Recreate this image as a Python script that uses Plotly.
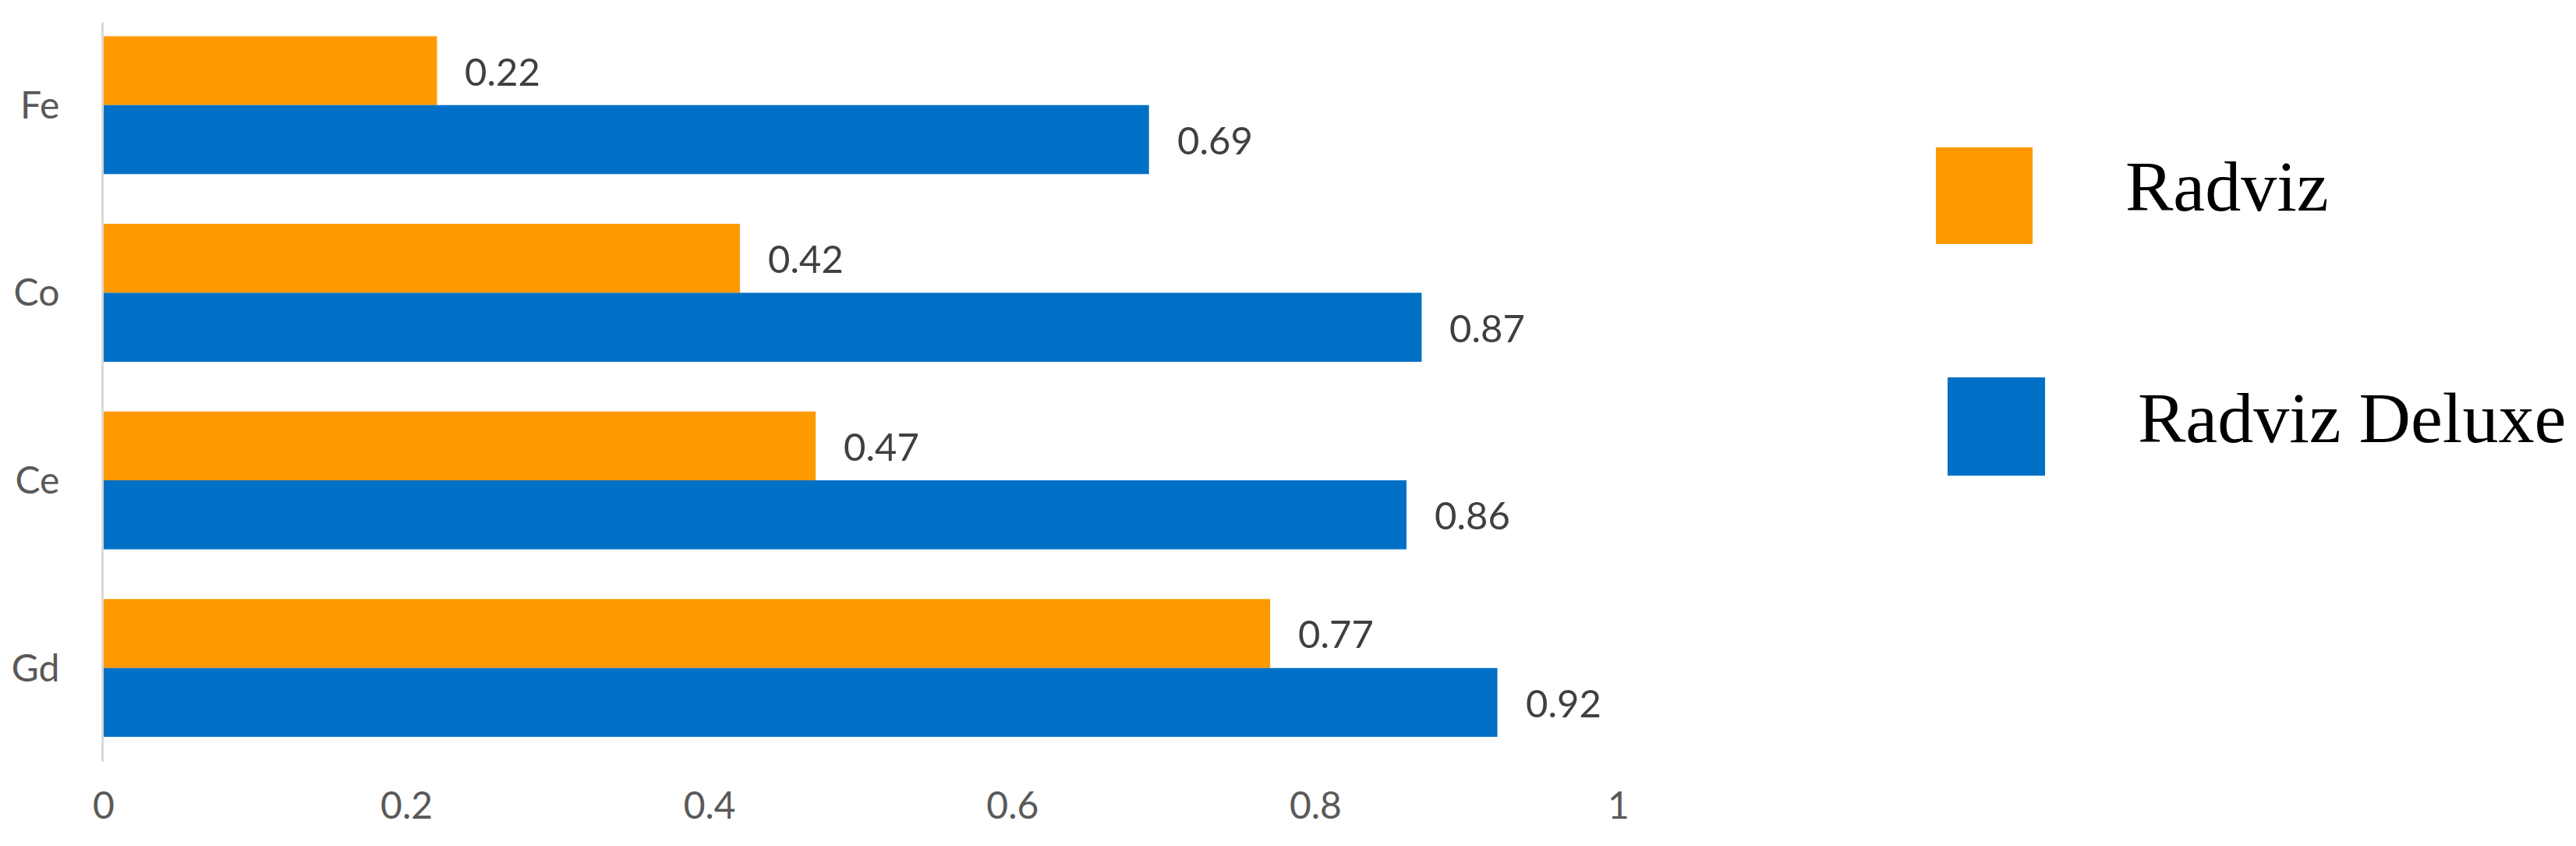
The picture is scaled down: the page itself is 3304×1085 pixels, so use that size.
import plotly.graph_objects as go

# ---- data ----
categories = ["Fe", "Co", "Ce", "Gd"]
radviz = [0.22, 0.42, 0.47, 0.77]
radviz_deluxe = [0.69, 0.87, 0.86, 0.92]
series_names = ["Radviz", "Radviz Deluxe"]
series_colors = ["#FF9900", "#0070C6"]
x_ticks = [0, 0.2, 0.4, 0.6, 0.8, 1]
x_tick_labels = ["0", "0.2", "0.4", "0.6", "0.8", "1"]

# ---- geometry ----
W, H = 3304, 1085
L, R, T, B = 125, 2068, 21, 969
y_range = [3.5, -0.44]
bargap = 0.265
pitch_px = (B - T) / abs(y_range[0] - y_range[1])
half_offset = (1 - bargap) / 4 * pitch_px

fig = go.Figure()
series = [radviz, radviz_deluxe]
for name, vals, col in zip(series_names, series, series_colors):
    fig.add_trace(go.Bar(
        y=categories, x=vals, orientation="h", name=name,
        marker=dict(color=col, line=dict(width=0)),
        showlegend=False, hoverinfo="x+y",
    ))

annotations = []
for k, vals in enumerate(series):
    ysh = half_offset if k == 0 else -half_offset
    for cat, v in zip(categories, vals):
        annotations.append(dict(
            x=v, y=cat, xref="x", yref="y", text=f"{v:g}", showarrow=False,
            xanchor="left", yanchor="middle", xshift=34, yshift=ysh,
            font=dict(family="Lato", size=49, color="#404040"),
        ))

# legend drawn as shapes + text (paper coords computed from pixels)
def px_to_paper_x(px):
    return (px - L) / (R - L)

def px_to_paper_y(py):
    return (B - py) / (B - T)

legend_boxes = [(2475, 2599, 181, 305), (2490, 2615, 476, 602)]
legend_text_pos = [(2716, 231), (2732, 528)]
shapes = []
for (x0, x1, y0, y1), col in zip(legend_boxes, series_colors):
    shapes.append(dict(
        type="rect", xref="paper", yref="paper",
        x0=px_to_paper_x(x0), x1=px_to_paper_x(x1),
        y0=px_to_paper_y(y1), y1=px_to_paper_y(y0),
        fillcolor=col, line=dict(width=0),
    ))
for (tx, ty), name in zip(legend_text_pos, series_names):
    annotations.append(dict(
        x=px_to_paper_x(tx), y=px_to_paper_y(ty), xref="paper", yref="paper",
        text=name, showarrow=False, xanchor="left", yanchor="middle",
        font=dict(family="Liberation Serif", size=92, color="#000000"),
    ))

fig.update_layout(
    width=W, height=H,
    margin=dict(l=L, r=W - R, t=T, b=H - B, pad=0, autoexpand=False),
    barmode="group", bargap=bargap, bargroupgap=0,
    plot_bgcolor="white", paper_bgcolor="white",
    annotations=annotations, shapes=shapes,
    showlegend=False,
)
fig.update_xaxes(
    range=[0, 1], tickvals=x_ticks, ticktext=x_tick_labels,
    showgrid=False, zeroline=False, showline=False,
    ticks="outside", ticklen=14, tickcolor="rgba(0,0,0,0)",
    tickfont=dict(family="Lato", size=48, color="#595959"),
)
fig.update_yaxes(
    type="category", range=y_range,
    showgrid=False, zeroline=False, showline=True,
    linecolor="#D9D9D9", linewidth=3,
    ticks="outside", ticklen=44, tickcolor="rgba(0,0,0,0)",
    tickfont=dict(family="Lato", size=48, color="#595959"),
)

fig.write_html("out.html")
